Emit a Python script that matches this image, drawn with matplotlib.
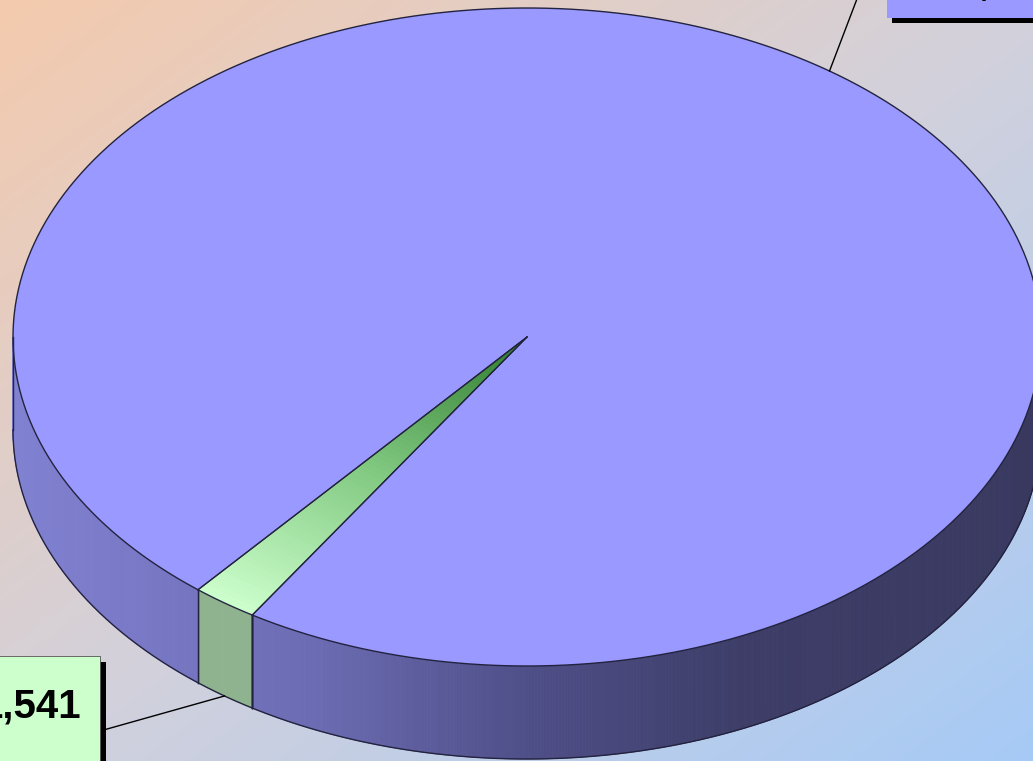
import numpy as np
import matplotlib.pyplot as plt
from matplotlib.colors import LinearSegmentedColormap
from matplotlib.patches import Polygon, Rectangle

# data (two slices, labels partly cut off in the source)
values = [72536, 1541]
top_colors = ['#9999FF', '#CCFFCC']
wall_colors = ['#6E6EB8', '#8FB38F']
label_texts = [f"{v:,}" for v in values]

# layout of the 3D pie in pixel space
W, H = 1033, 761
cx, cy = 527, 337
a, b = 514, 329
depth = 93
start_angle = 237.69   # degrees, counter-clockwise

fig = plt.figure(figsize=(W / 100, H / 100), dpi=100)
ax = fig.add_axes([0, 0, 1, 1])
ax.set_xlim(0, W)
ax.set_ylim(H, 0)
ax.axis('off')

# background gradient
bg = LinearSegmentedColormap.from_list('bg', ['#F4CAAD', '#D3D1DB', '#A6CAF6'])
yy, xx = np.mgrid[0:H, 0:W]
s = (xx / W + yy / H) / 2
ax.imshow(bg(s), extent=(0, W, H, 0), zorder=0, aspect='auto')


def pt(theta, r=1.0, dz=0.0):
    t = np.radians(theta)
    return cx + r * a * np.cos(t), cy - r * b * np.sin(t) + dz


# slice angle ranges
total = sum(values)
bounds = [start_angle]
for v in values:
    bounds.append(bounds[-1] + 360 * v / total)
ranges = list(zip(bounds[:-1], bounds[1:]))


def slice_at(theta):
    for i, (t0, t1) in enumerate(ranges):
        for k in (-360, 0, 360):
            if t0 <= theta + k < t1:
                return i
    return 0


# side walls (front half, 180..360 degrees)
wall_cmap = LinearSegmentedColormap.from_list(
    'wall', [(0, '#8282D4'), (0.3, '#6C6CB4'), (0.5, '#50508A'),
             (0.72, '#3D3D68'), (1, '#393960')])
breaks = [180.0, 360.0]
for t in bounds:
    tm = t % 360
    if 180 < tm < 360:
        breaks.append(tm)
breaks = sorted(breaks)
edge = '#23233F'
for t0, t1 in zip(breaks[:-1], breaks[1:]):
    idx = slice_at((t0 + t1) / 2)
    th = np.linspace(t0, t1, max(int((t1 - t0) * 3), 2))
    for u0, u1 in zip(th[:-1], th[1:]):
        x0, y0 = pt(u0)
        x1, y1 = pt(u1)
        if idx == 0:
            c = wall_cmap(((x0 + x1) / 2) / W)
        else:
            c = wall_colors[idx]
        quad = [(x0, y0), (x1, y1), (x1, y1 + depth), (x0, y0 + depth)]
        ax.add_patch(Polygon(quad, closed=True, facecolor=c, edgecolor=c,
                             lw=0.6, zorder=1))
    # vertical edges at slice boundaries
    for t in (t0, t1):
        if 180 < t < 360:
            x, y = pt(t)
            ax.plot([x, x], [y, y + depth], color=edge, lw=1.0, zorder=3)

# bottom outline of walls
th = np.linspace(180, 360, 400)
xb, yb = pt(th, dz=depth)
ax.plot(xb, yb, color=edge, lw=1.0, zorder=3)
for t in (180, 360):
    x, y = pt(t)
    ax.plot([x, x], [y, y + depth], color=edge, lw=1.0, zorder=3)

# top faces
green_cmap = LinearSegmentedColormap.from_list(
    'g', [(0, '#2C7A2C'), (0.5, '#80C880'), (1, '#CCFFCC')])
for i, (t0, t1) in enumerate(ranges):
    th = np.linspace(t0, t1, max(int((t1 - t0) * 3), 3))
    if i == 0:
        xs, ys = pt(th)
        poly = [(cx, cy)] + list(zip(xs, ys))
        ax.add_patch(Polygon(poly, closed=True, facecolor=top_colors[i],
                             edgecolor='none', zorder=2))
    else:
        rs = np.linspace(0, 1, 80)
        for r0, r1 in zip(rs[:-1], rs[1:]):
            xa, ya = pt(th, r0)
            xo, yo = pt(th[::-1], r1)
            poly = list(zip(xa, ya)) + list(zip(xo, yo))
            c = green_cmap((r0 + r1) / 2)
            ax.add_patch(Polygon(poly, closed=True, facecolor=c,
                                 edgecolor=c, lw=0.5, zorder=2))
    for t in (t0, t1):
        x, y = pt(t)
        ax.plot([cx, x], [cy, y], color=edge, lw=0.9, zorder=3)

th = np.linspace(0, 360, 800)
xs, ys = pt(th)
ax.plot(xs, ys, color=edge, lw=1.0, zorder=3)

# data labels with leader lines and shadowed boxes
mid_blue = (ranges[0][0] + ranges[0][1]) / 2
mid_green = (ranges[1][0] + ranges[1][1]) / 2
font = ['Liberation Sans', 'DejaVu Sans']

x, y = pt(mid_blue)
ax.plot([x, x + 40], [y, y - 105], color='black', lw=1.0, zorder=4)
ax.add_patch(Rectangle((892, -60), 250, 83, facecolor='black', zorder=5))
ax.add_patch(Rectangle((887, -65), 250, 83, facecolor=top_colors[0], zorder=6))
ax.text(936, -5, label_texts[0], fontsize=28, fontweight='bold',
        family=font, ha='left', va='baseline', zorder=7)

x, y = pt(mid_green, dz=depth)
ax.plot([x, 100], [y, 731], color='black', lw=1.0, zorder=4)
ax.add_patch(Rectangle((-55, 662), 161, 120, facecolor='black', zorder=5))
ax.add_patch(Rectangle((-60, 656), 160, 120, facecolor=top_colors[1],
                       edgecolor='#555555', lw=0.6, zorder=6))
ax.text(81, 717, label_texts[1], fontsize=29, fontweight='bold',
        family=font, ha='right', va='baseline', zorder=7)

fig.savefig('out.png', dpi=100)
